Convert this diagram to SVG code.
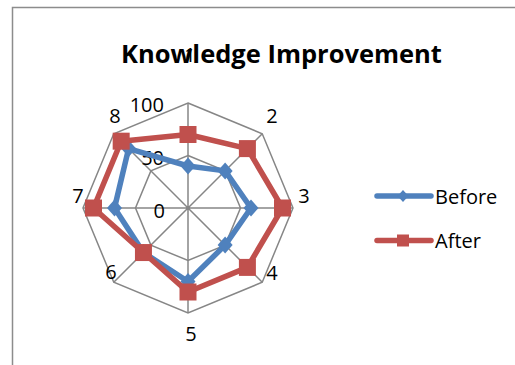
<svg xmlns="http://www.w3.org/2000/svg" xmlns:xlink="http://www.w3.org/1999/xlink" width="515" height="365" viewBox="0 0 515 365">
<style>
.grid{fill:none;stroke:#868686;stroke-width:1.5}
.lbl{font-family:"Open Sans","Noto Sans","DejaVu Sans",sans-serif;font-size:20px;fill:#000}
.title{font-family:"Open Sans","Noto Sans","DejaVu Sans",sans-serif;font-size:25.5px;font-weight:bold;fill:#000}
.blue{fill:none;stroke:#4F81BD;stroke-width:5.5;stroke-linejoin:round;stroke-linecap:round}
.red{fill:none;stroke:#C0504D;stroke-width:5.5;stroke-linejoin:round;stroke-linecap:round}
.bm{fill:#4F81BD}
.rm{fill:#C0504D}
</style>
<defs>
<path id="dia" d="M0,-8.5 L7.5,0 L0,8.5 L-7.5,0 Z"/>
<rect id="sq" x="-8.5" y="-8.5" width="17" height="17"/>
<path id="ldia" d="M0,-6 L5.5,0 L0,6 L-5.5,0 Z"/>
<rect id="lsq" x="-6" y="-6" width="12" height="12"/>
</defs>
<rect width="515" height="365" fill="#fff"/>
<path d="M12.5,365 L12.5,7.5 L515,7.5" fill="none" stroke="#8c8c8c" stroke-width="1.5"/>
<text class="lbl" x="190" y="62" text-anchor="middle" font-size="17">1</text>
<text class="title" x="281.5" y="63" text-anchor="middle">Knowledge Improvement</text>
<g id="grid">
<polygon class="grid" points="188,103 262.25,133.75 293,208 262.25,282.25 188,313 113.75,282.25 83,208 113.75,133.75"/>
<polygon class="grid" points="188,155.5 225.12,170.88 240.5,208 225.12,245.12 188,260.5 150.88,245.12 135.5,208 150.88,170.88"/>
<path class="grid" d="M188,208 L188,103 M188,208 L262.25,133.75 M188,208 L293,208 M188,208 L262.25,282.25 M188,208 L188,313 M188,208 L113.75,282.25 M188,208 L83,208 M188,208 L113.75,133.75"/>
</g>
<g id="axis-labels">
<text class="lbl" x="164" y="112" text-anchor="end">100</text>
<text class="lbl" x="164" y="165" text-anchor="end">50</text>
<text class="lbl" x="165" y="218" text-anchor="end">0</text>
<text class="lbl" x="272" y="123" text-anchor="middle">2</text>
<text class="lbl" x="304" y="203" text-anchor="middle">3</text>
<text class="lbl" x="272" y="280" text-anchor="middle">4</text>
<text class="lbl" x="191" y="341" text-anchor="middle">5</text>
<text class="lbl" x="111" y="279" text-anchor="middle">6</text>
<text class="lbl" x="78" y="203" text-anchor="middle">7</text>
<text class="lbl" x="115" y="123" text-anchor="middle">8</text>
</g>
<g id="before">
<polygon class="blue" points="188,166 225.12,170.88 251,208 225.12,245.12 188,281.5 143.45,252.55 114.5,208 128.6,148.6"/>
<use href="#dia" class="bm" x="188" y="166"/>
<use href="#dia" class="bm" x="225.12" y="170.88"/>
<use href="#dia" class="bm" x="251" y="208"/>
<use href="#dia" class="bm" x="225.12" y="245.12"/>
<use href="#dia" class="bm" x="188" y="281.5"/>
<use href="#dia" class="bm" x="143.45" y="252.55"/>
<use href="#dia" class="bm" x="114.5" y="208"/>
<use href="#dia" class="bm" x="128.6" y="148.6"/>
</g>
<g id="after">
<polygon class="red" points="188,134.5 247.4,148.6 282.5,208 247.4,267.4 188,292 143.45,252.55 93.5,208 121.18,141.18"/>
<use href="#sq" class="rm" x="188" y="134.5"/>
<use href="#sq" class="rm" x="247.4" y="148.6"/>
<use href="#sq" class="rm" x="282.5" y="208"/>
<use href="#sq" class="rm" x="247.4" y="267.4"/>
<use href="#sq" class="rm" x="188" y="292"/>
<use href="#sq" class="rm" x="143.45" y="252.55"/>
<use href="#sq" class="rm" x="93.5" y="208"/>
<use href="#sq" class="rm" x="121.18" y="141.18"/>
</g>
<g id="legend">
<line class="blue" x1="377" y1="196" x2="431" y2="196"/>
<use href="#ldia" class="bm" x="403" y="196"/>
<text class="lbl" x="435" y="204">Before</text>
<line class="red" x1="377" y1="240.5" x2="431" y2="240.5"/>
<use href="#lsq" class="rm" x="403" y="240.5"/>
<text class="lbl" x="435" y="248">After</text>
</g>
</svg>
